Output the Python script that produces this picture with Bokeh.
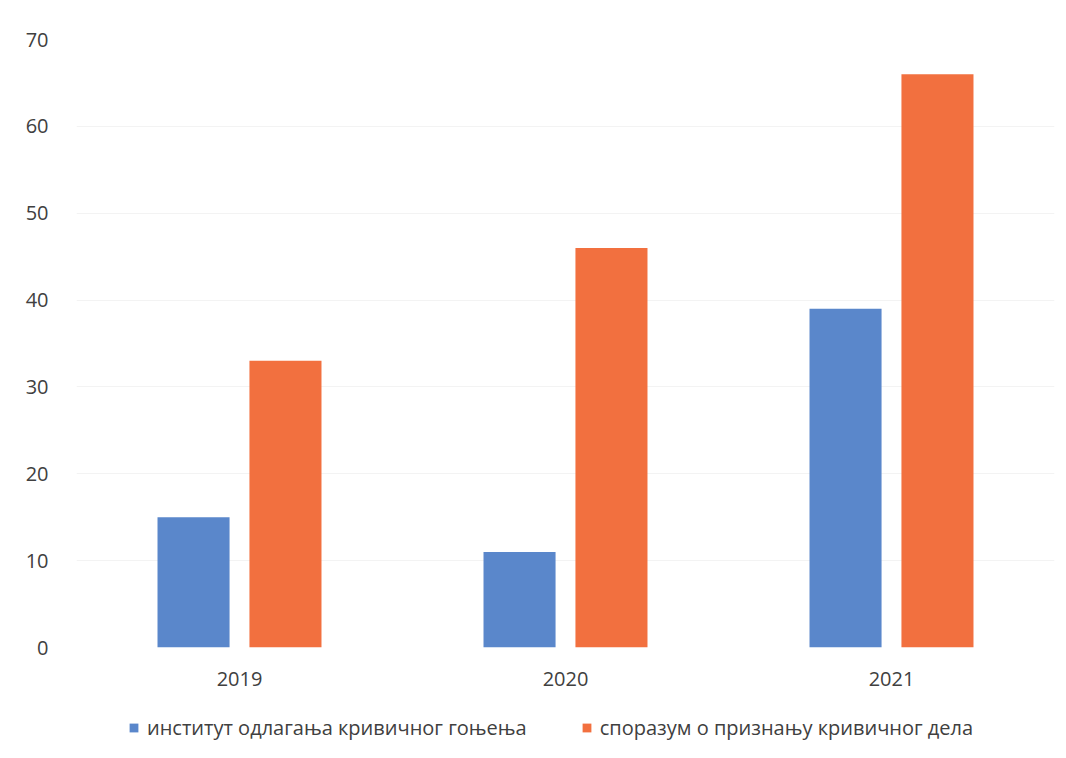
from bokeh.plotting import figure
from bokeh.layouts import column
from bokeh.models import ColumnDataSource, FactorRange, Legend, LegendItem, Range1d, FixedTicker
from bokeh.transform import dodge
from bokeh.embed import file_html
from bokeh.resources import INLINE

years = ["2019", "2020", "2021"]
odlaganje = [15, 11, 39]
sporazum = [33, 46, 66]
series_labels = ["институт одлагања кривичног гоњења", "споразум о признању кривичног дела"]
y_ticks = [0, 10, 20, 30, 40, 50, 60, 70]

src = ColumnDataSource(dict(years=years, odlaganje=odlaganje, sporazum=sporazum))

FONT = "Open Sans"
blue = "#5A87CB"
orange = "#F2703F"
TEXT = "#404040"

p = figure(x_range=FactorRange(*years, range_padding=0), y_range=Range1d(0, 70),
           frame_width=978, frame_height=608, output_backend="svg", toolbar_location=None,
           min_border_left=76, min_border_right=4, min_border_top=39, min_border_bottom=48)

r1 = p.vbar(x=dodge("years", -0.141, range=p.x_range), top="odlaganje", width=0.221,
            source=src, fill_color=blue, line_color=None)
r2 = p.vbar(x=dodge("years", 0.141, range=p.x_range), top="sporazum", width=0.221,
            source=src, fill_color=orange, line_color=None)

p.outline_line_color = None
p.xgrid.grid_line_color = None
p.ygrid.grid_line_color = "#f3f3f3"
p.yaxis.ticker = FixedTicker(ticks=y_ticks)

for ax in (p.xaxis, p.yaxis):
    ax.axis_line_color = None
    ax.major_tick_line_color = None
    ax.minor_tick_line_color = None
    ax.major_label_text_font = FONT
    ax.major_label_text_font_size = "20px"
    ax.major_label_text_color = TEXT
p.xaxis.major_label_standoff = 18
p.yaxis.major_label_standoff = 22

# Legend strip below the chart (same series, bars kept out of view)
lg = figure(x_range=FactorRange(*years, range_padding=0), y_range=Range1d(1000, 1001),
            frame_width=978, frame_height=60, output_backend="svg", toolbar_location=None,
            min_border_left=76, min_border_right=4, min_border_top=0, min_border_bottom=0)
lg.axis.visible = False
lg.grid.visible = False
lg.outline_line_color = None
l1 = lg.vbar(x=dodge("years", -0.141, range=lg.x_range), top="odlaganje", width=0.221,
             source=src, fill_color=blue, line_color=None)
l2 = lg.vbar(x=dodge("years", 0.141, range=lg.x_range), top="sporazum", width=0.221,
             source=src, fill_color=orange, line_color=None)

legend = Legend(items=[LegendItem(label=series_labels[0], renderers=[l1]),
                       LegendItem(label=series_labels[1], renderers=[l2])],
                orientation="horizontal", location=(52, 14),
                label_text_font=FONT, label_text_font_size="20px", label_text_color=TEXT,
                glyph_width=11, glyph_height=11, label_standoff=8, spacing=54,
                border_line_color=None, background_fill_alpha=0, margin=0, padding=0)
lg.add_layout(legend)

layout = column(p, lg, spacing=0)
open("out.html", "w").write(file_html(layout, INLINE))
